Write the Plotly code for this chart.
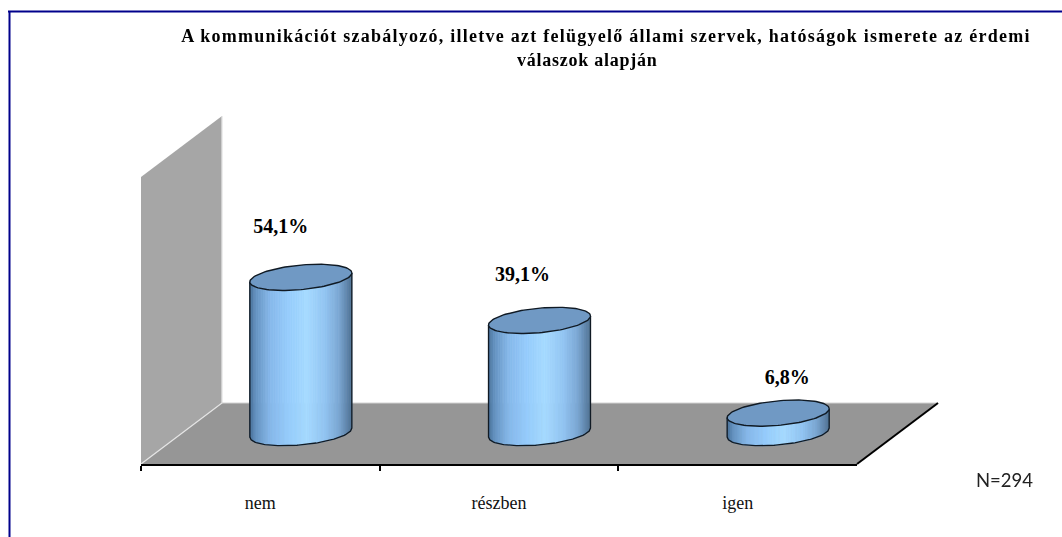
import math
import plotly.graph_objects as go

categories = ["nem", "részben", "igen"]
values = [54.1, 39.1, 6.8]
value_labels = ["54,1%", "39,1%", "6,8%"]
title_lines = ["A kommunikációt szabályozó, illetve azt felügyelő állami szervek, hatóságok ismerete az érdemi",
               "válaszok alapján"]
note = "N=294"

W, H = 1062, 537
AX_L, AX_R, AX_Y = 141, 857, 464
PX_X = (AX_R - AX_L) / 3
PX_Y = 2.87
XR = [-AX_L / PX_X - 0.5, (W - AX_L) / PX_X - 0.5]
YR = [-(H - AX_Y) / PX_Y, AX_Y / PX_Y]

DEPTH_X = 81 / PX_X
DEPTH_Y = 61 / PX_Y
A = 51 / PX_X
B = 12.3 / PX_Y
S = 4.5 / PX_Y
label_dx = [-20 / PX_X, -17 / PX_X, 9 / PX_X]
label_dy = [50 / PX_Y, 45 / PX_Y, 35 / PX_Y]

STOPS = [(0.0, (70, 108, 148)), (0.06, (100, 146, 192)), (0.2, (134, 184, 234)), (0.38, (150, 204, 252)),
         (0.56, (166, 218, 255)), (0.74, (146, 196, 242)), (0.88, (122, 166, 210)), (1.0, (80, 114, 148))]


def shade(p):
    for (p0, c0), (p1, c1) in zip(STOPS, STOPS[1:]):
        if p <= p1:
            f = (p - p0) / (p1 - p0)
            return "rgb(%d,%d,%d)" % tuple(round(a + (b - a) * f) for a, b in zip(c0, c1))
    return "rgb(%d,%d,%d)" % STOPS[-1][1]


def poly(xs, ys, fill=None, line=None, width=1.0, mode="lines"):
    return go.Scatter(x=xs, y=ys, mode=mode, fill="toself" if fill else "none", fillcolor=fill,
                      line=dict(color=line or fill, width=width if line else 0),
                      hoverinfo="skip", showlegend=False)


fig = go.Figure()
x0, x1 = -0.5, 2.5
# wall
fig.add_trace(poly([x0, x0 + DEPTH_X, x0 + DEPTH_X, x0, x0],
                   [0, DEPTH_Y, 100 + DEPTH_Y, 100, 0], fill="#a6a6a6"))
# floor
fig.add_trace(poly([x0, x1, x1 + DEPTH_X, x0 + DEPTH_X, x0], [0, 0, DEPTH_Y, DEPTH_Y, 0], fill="#969696"))
fig.add_trace(poly([x0, x0 + DEPTH_X, x0 + DEPTH_X], [0, DEPTH_Y, 100 + DEPTH_Y], line="#e4e4e4", width=1.3))
fig.add_trace(poly([x0 + DEPTH_X, x1 + DEPTH_X], [DEPTH_Y, DEPTH_Y], line="#d2d2d2", width=1))
fig.add_trace(poly([x1, x1 + DEPTH_X], [0, DEPTH_Y], line="#000000", width=2))

N = 60
OUT = "#101a24"
for i, v in enumerate(values):
    cx = i + DEPTH_X / 2
    base = DEPTH_Y / 2 + 0.3
    top = base + v

    def front(u, level):
        return level + S * u - B * math.sqrt(max(0, 1 - u * u))

    for k in range(N):
        u1, u2 = -1 + 2 * k / N, -1 + 2 * (k + 1) / N
        xa, xb = cx + A * u1, cx + A * u2
        fig.add_trace(poly([xa, xb, xb, xa, xa],
                           [front(u1, base), front(u2, base), front(u2, top), front(u1, top), front(u1, base)],
                           fill=shade((k + 0.5) / N), line=shade((k + 0.5) / N), width=0.8))
    # outline of the body
    us = [-1 + 2 * k / 80 for k in range(81)]
    ox = [cx - A] + [cx + A * u for u in us] + [cx + A]
    oy = [top - S] + [front(u, base) for u in us] + [top + S]
    fig.add_trace(poly(ox, oy, line=OUT, width=1.3))
    # top ellipse
    ts = [2 * math.pi * k / 120 for k in range(121)]
    fig.add_trace(poly([cx + A * math.cos(t) for t in ts],
                       [top + S * math.cos(t) + B * math.sin(t) for t in ts],
                       fill="#7099c4", line=OUT, width=1.4))

# value labels
fig.add_trace(go.Scatter(
    x=[i + DEPTH_X / 2 + label_dx[i] for i in range(3)],
    y=[DEPTH_Y / 2 + values[i] + label_dy[i] for i in range(3)],
    mode="text", text=["<b>%s</b>" % t for t in value_labels], textposition="middle center",
    textfont=dict(family="Liberation Serif", size=20, color="#000000"),
    hoverinfo="skip", showlegend=False))
# category axis carrier
fig.add_trace(go.Scatter(x=categories, y=values, xaxis="x2", yaxis="y", mode="markers", opacity=0,
                         hoverinfo="skip", showlegend=False))

fig.update_layout(
    width=W, height=H, autosize=False,
    margin=dict(l=0, r=0, t=0, b=0),
    paper_bgcolor="#ffffff", plot_bgcolor="rgba(0,0,0,0)",
    xaxis=dict(range=XR, domain=[0, 1], visible=False, fixedrange=True),
    yaxis=dict(range=YR, domain=[0, 1], visible=False, fixedrange=True),
    xaxis2=dict(type="category", domain=[AX_L / W, AX_R / W], range=[-0.5, 2.5], anchor="free",
                position=(H - AX_Y - 1) / H, side="bottom", showline=True, linecolor="#000000", linewidth=2,
                ticks="outside", tickson="boundaries", ticklen=5, tickwidth=2, tickcolor="#000000",
                showgrid=False, zeroline=False, ticklabelstandoff=21,
                tickfont=dict(family="Liberation Serif", size=18, color="#111111"), fixedrange=True),
    title=dict(text="<b>%s</b>" % title_lines[0], x=606 / W, xanchor="center", y=1 - 36 / H, yanchor="middle",
               font=dict(family="Liberation Serif", size=18, color="#000000")),
    annotations=[
        dict(text="<b>%s</b>" % title_lines[1], xref="paper", yref="paper", x=587 / W, y=1 - 60 / H,
             showarrow=False, xanchor="center", yanchor="middle",
             font=dict(family="Liberation Serif", size=18, color="#000000")),
        dict(text=note, xref="paper", yref="paper", x=1004 / W, y=1 - 480 / H, showarrow=False,
             xanchor="center", yanchor="middle", font=dict(family="Lato", size=18.5, color="#222222")),
    ],
    shapes=[
        dict(type="line", xref="paper", yref="paper", x0=8 / W, x1=1, y0=1 - 11.5 / H, y1=1 - 11.5 / H,
             line=dict(color="#00008b", width=2)),
        dict(type="line", xref="paper", yref="paper", x0=9.5 / W, x1=9.5 / W, y0=1 - 11 / H, y1=0,
             line=dict(color="#00008b", width=2)),
    ],
)
POST = """
document.body.style.margin = '0';
var t = document.querySelector('.gtitle');
if (t) { t.style.letterSpacing = '1.25px'; }
var a = document.querySelector('.annotation text');
if (a) { a.style.letterSpacing = '0.75px'; }
"""
fig.write_html("out.html", config=dict(displayModeBar=False), post_script=POST)
